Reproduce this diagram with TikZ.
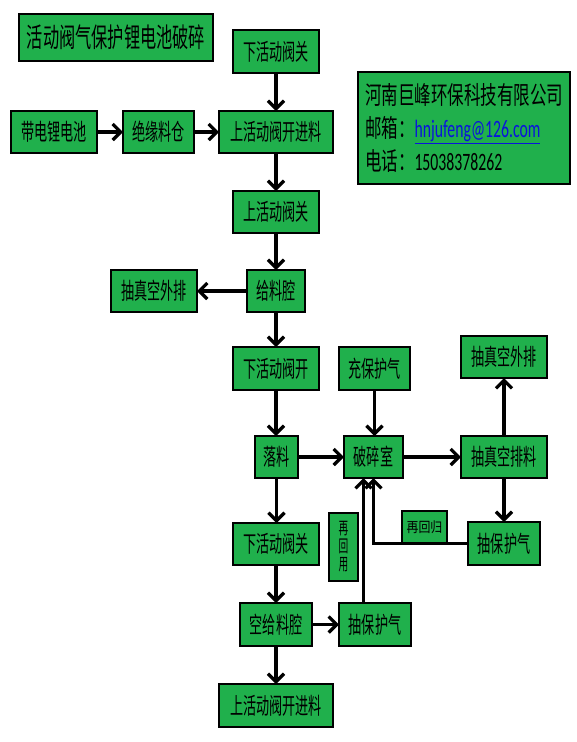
\documentclass[tikz,border=0pt]{standalone}
\usepackage{fontspec}
\usetikzlibrary{arrows.meta,calc}
\newfontfamily\cjk[FakeStretch=0.57]{Noto Sans CJK SC}
\newfontfamily\cjkt[FakeStretch=0.6]{Noto Sans CJK SC}
\newfontfamily\cjkw[FakeStretch=0.66]{Noto Sans CJK SC}
\newfontfamily\cjks[FakeStretch=0.85]{Noto Sans CJK SC}
\newfontfamily\lat[FakeStretch=0.63]{Carlito}
\definecolor{boxgreen}{RGB}{32,176,76}
\definecolor{linkblue}{RGB}{10,20,220}
\newcommand\mkbox[6][]{%
  \node[box,#1,minimum width={(#4-#2)*1pt},minimum height={(#5-#3)*1pt}] (#6) at ({(#2+#4)/2},{(#3+#5)/2})}
\begin{document}
\begin{tikzpicture}[x=1pt,y=-1pt,
  box/.style={draw=black,line width=1.6pt,fill=boxgreen,inner sep=0pt,outer sep=0pt,
    text=black,font=\cjk\fontsize{23}{26}\selectfont},
  arr/.style={line width=3.2pt,-{Straight Barb[length=8pt,width=16pt]}}]
\useasboundingbox[fill=white] (0,0) rectangle (577,742);

\mkbox[font=\cjkt\fontsize{27}{30}\selectfont]{19}{14}{213}{61}{title} {活动阀气保护锂电池破碎};
\mkbox{233}{30}{319}{73}{xg1} {下活动阀关};
\mkbox[align=left,font=\cjkw\fontsize{25}{33}\selectfont]{358}{72}{570}{184}{info}
  {河南巨峰环保科技有限公司\\
   邮箱：{\lat\textcolor{linkblue}{\underline{hnjufeng@126.com}}}\\
   电话：{\lat 15038378262}};
\mkbox{11}{111}{97}{153}{dd} {带电锂电池};
\mkbox{123}{111}{194}{153}{jy} {绝缘料仓};
\mkbox{219}{111}{333}{153}{sk1} {上活动阀开进料};
\mkbox{233}{191}{319}{233}{sg} {上活动阀关};
\mkbox{111}{270}{197}{312}{cw1} {抽真空外排};
\mkbox{247}{270}{305}{312}{gl} {给料腔};
\mkbox{233}{347}{319}{390}{xk} {下活动阀开};
\mkbox{339}{347}{410}{390}{cb} {充保护气};
\mkbox{461}{336}{547}{378}{cw2} {抽真空外排};
\mkbox{255}{436}{298}{478}{ll} {落料};
\mkbox{344}{436}{403}{478}{ps} {破碎室};
\mkbox{461}{436}{547}{478}{cp} {抽真空排料};
\mkbox{233}{523}{319}{565}{xg2} {下活动阀关};
\mkbox[align=center,font=\cjk\fontsize{17}{18}\selectfont]{329}{513}{358}{581}{zhy} {再\\回\\用};
\mkbox[font=\cjks\fontsize{14}{16}\selectfont]{402}{511}{447}{543}{zhg} {再回归};
\mkbox{468}{522}{540}{565}{cbq} {抽保护气};
\mkbox{240}{603}{312}{646}{kg} {空给料腔};
\mkbox{339}{603}{411}{646}{cbq2} {抽保护气};
\mkbox{219}{684}{333}{727}{sk2} {上活动阀开进料};

\coordinate (ret) at ([xshift=-10pt]ps.south);

\draw[arr] (xg1) -- (sk1);
\draw[arr] (dd) -- (jy);
\draw[arr] (jy) -- (sk1);
\draw[arr] (sk1) -- (sg);
\draw[arr] (sg) -- (gl);
\draw[arr] (gl) -- (cw1);
\draw[arr] (gl) -- (xk);
\draw[arr] (xk.south) -- (xk.south |- ll.north);
\draw[arr] (cb.south) -- (cb.south |- ps.north);
\draw[arr] (ll) -- (ps);
\draw[arr] (ps) -- (cp);
\draw[arr] (cp.north) -- (cp.north |- cw2.south);
\draw[arr] (cp.south) -- (cp.south |- cbq.north);
\draw[arr] (cbq.west) -| (ps.south);
\draw[arr] (cbq2.north -| ret) -- (ret);
\draw[arr] (ll.south) -- (ll.south |- xg2.north);
\draw[arr] (xg2) -- (kg);
\draw[arr] (kg) -- (cbq2);
\draw[arr] (kg) -- (kg |- sk2.north);
\end{tikzpicture}
\end{document}
